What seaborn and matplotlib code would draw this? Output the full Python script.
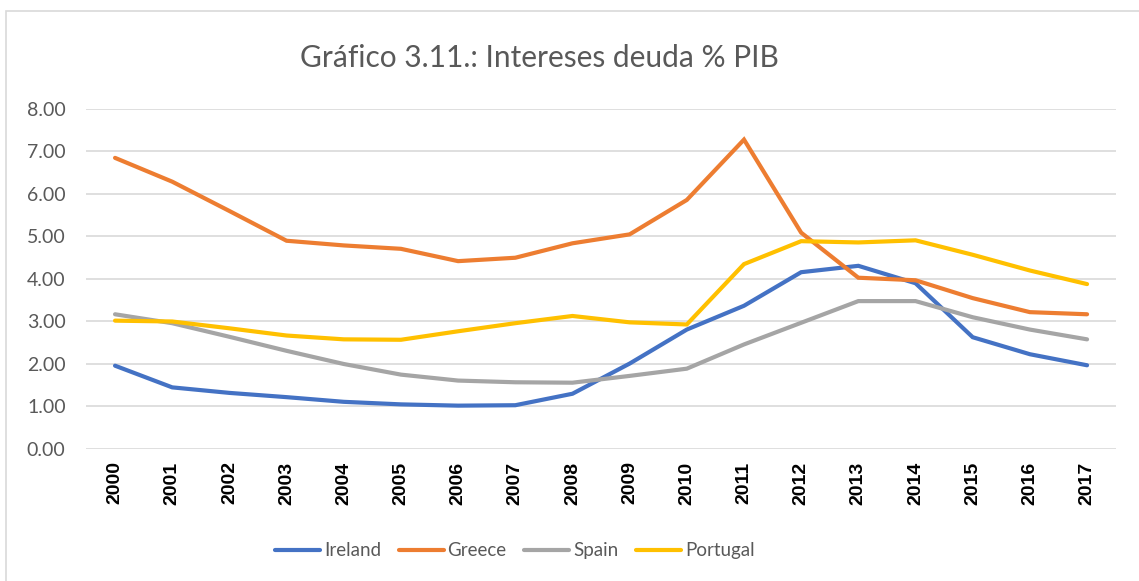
import matplotlib
matplotlib.use("Agg")
import matplotlib.pyplot as plt
import seaborn as sns
import pandas as pd
from matplotlib.patches import Rectangle
from matplotlib.lines import Line2D

years = [str(y) for y in range(2000, 2018)]
ireland = [1.96, 1.45, 1.32, 1.22, 1.11, 1.05, 1.02, 1.03, 1.30, 2.01, 2.81, 3.37, 4.16, 4.31, 3.90, 2.63, 2.23, 1.97]
greece = [6.85, 6.29, 5.60, 4.90, 4.79, 4.71, 4.42, 4.50, 4.84, 5.05, 5.86, 7.28, 5.09, 4.03, 3.97, 3.55, 3.22, 3.17]
spain = [3.17, 2.96, 2.64, 2.31, 2.00, 1.75, 1.61, 1.57, 1.56, 1.72, 1.89, 2.46, 2.97, 3.48, 3.48, 3.10, 2.81, 2.58]
portugal = [3.02, 3.00, 2.84, 2.67, 2.58, 2.57, 2.77, 2.96, 3.13, 2.98, 2.93, 4.35, 4.89, 4.86, 4.91, 4.57, 4.20, 3.88]
series_names = ["Ireland", "Greece", "Spain", "Portugal"]
colors = ["#4472C4", "#ED7D31", "#A5A5A5", "#FFC000"]
title = "Gráfico 3.11.: Intereses deuda % PIB"
yticks = [0, 1, 2, 3, 4, 5, 6, 7, 8]

df = pd.DataFrame({"Year": years, "Ireland": ireland, "Greece": greece,
                   "Spain": spain, "Portugal": portugal})
long = df.melt(id_vars="Year", var_name="Country", value_name="Value")
long["x"] = long["Year"].map({y: i for i, y in enumerate(years)})

sns.set_style("white")
plt.rcParams["font.family"] = ["Lato", "DejaVu Sans"]

fig = plt.figure(figsize=(11.39, 5.81), dpi=100)
ax = fig.add_axes([0.0759, 0.2272, 0.9036, 0.5852])

sns.lineplot(data=long, x="x", y="Value", hue="Country", hue_order=series_names,
             palette=colors, linewidth=3.0, ax=ax, legend=False,
             solid_capstyle="round", solid_joinstyle="miter")

ax.set_xlim(-0.5, len(years) - 0.5)
ax.set_ylim(0, 8)
ax.set_yticks(yticks)
ax.set_yticklabels([f"{v:.2f}" for v in yticks], fontsize=14, color="#595959")
ax.set_xticks(range(len(years)))
ax.set_xticklabels(years, rotation=90, fontsize=14, fontweight="bold",
                   family="Liberation Sans", color="black")
ax.tick_params(axis="y", length=0, pad=15)
ax.tick_params(axis="x", length=0, pad=9)
ax.grid(axis="y", color="#D9D9D9", linewidth=1.2)
ax.set_axisbelow(True)
for s in ax.spines.values():
    s.set_visible(False)
ax.set_xlabel("")
ax.set_ylabel("")

fig.text(0.474, 0.900, title, ha="center", va="center", fontsize=21.5, color="#595959")

handles = [Line2D([0], [0], color=c, linewidth=3.0, solid_capstyle="round") for c in colors]
leg = fig.legend(handles, series_names, loc="center", bbox_to_anchor=(0.452, 0.052),
                 ncol=4, frameon=False, fontsize=13.5, handlelength=2.4,
                 handletextpad=0.2, columnspacing=0.95)
for t in leg.get_texts():
    t.set_color("#595959")

fig.patches.append(Rectangle((6 / 1139, -0.05), 1.2, 1 - 11 / 581 + 0.05,
                             transform=fig.transFigure, fill=False,
                             edgecolor="#D9D9D9", linewidth=1.2))

fig.savefig("out.png", dpi=100)
